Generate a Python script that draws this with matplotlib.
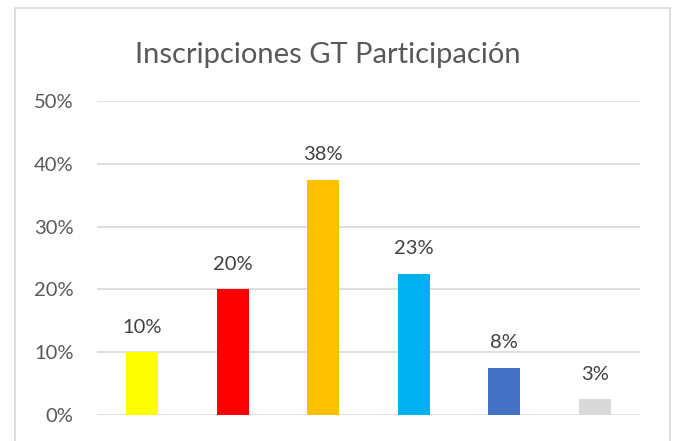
import numpy as np
import matplotlib
matplotlib.use('Agg')
from matplotlib import pyplot as plt
from matplotlib.patches import Rectangle
from matplotlib.ticker import PercentFormatter

#%% DATOS

categorias = ['A', 'B', 'C', 'D', 'E', 'F']
valores = [0.10, 0.20, 0.375, 0.225, 0.075, 0.025]
etiquetas = ['10%', '20%', '38%', '23%', '8%', '3%']
colores = ['#ffff00', '#ff0000', '#ffc000', '#00b0f0', '#4472c4', '#d9d9d9']

#%% FIGURA

plt.rcParams['font.family'] = ['Lato', 'DejaVu Sans']

fig = plt.figure(figsize=(6.73, 4.41), dpi=100)
fig.patches.append(Rectangle((15/673, -0.02), 655/673, 1.02 - 8/441,
                             transform=fig.transFigure, fill=False,
                             edgecolor='#d9d9d9', linewidth=1.2))

ax = fig.add_axes([97/673, 1 - 415/441, 543/673, 314/441])
x = np.arange(len(categorias))
ax.bar(x, valores, width=0.355, color=colores, zorder=3)

for xi, v, lab in zip(x, valores, etiquetas):
    ax.annotate(lab, (xi, v), xytext=(0, 18), textcoords='offset points',
                ha='center', va='center', fontsize=14.5, color='#404040')

ax.set_xlim(-0.5, len(categorias) - 0.5)
ax.set_ylim(0, 0.5)
ax.set_yticks(np.arange(0, 0.51, 0.1))
ax.yaxis.set_major_formatter(PercentFormatter(1.0, decimals=0))
ax.set_xticks([])
ax.tick_params(axis='y', length=0, pad=17, labelsize=14.5, labelcolor='#595959')
ax.grid(axis='y', color='#d9d9d9', linewidth=1.2, zorder=0)
for s in ax.spines.values():
    s.set_visible(False)

fig.text(328/673, 1 - 55/441, 'Inscripciones GT Participación',
         ha='center', va='center', fontsize=21, color='#595959')

plt.savefig('out.png', dpi=100)
